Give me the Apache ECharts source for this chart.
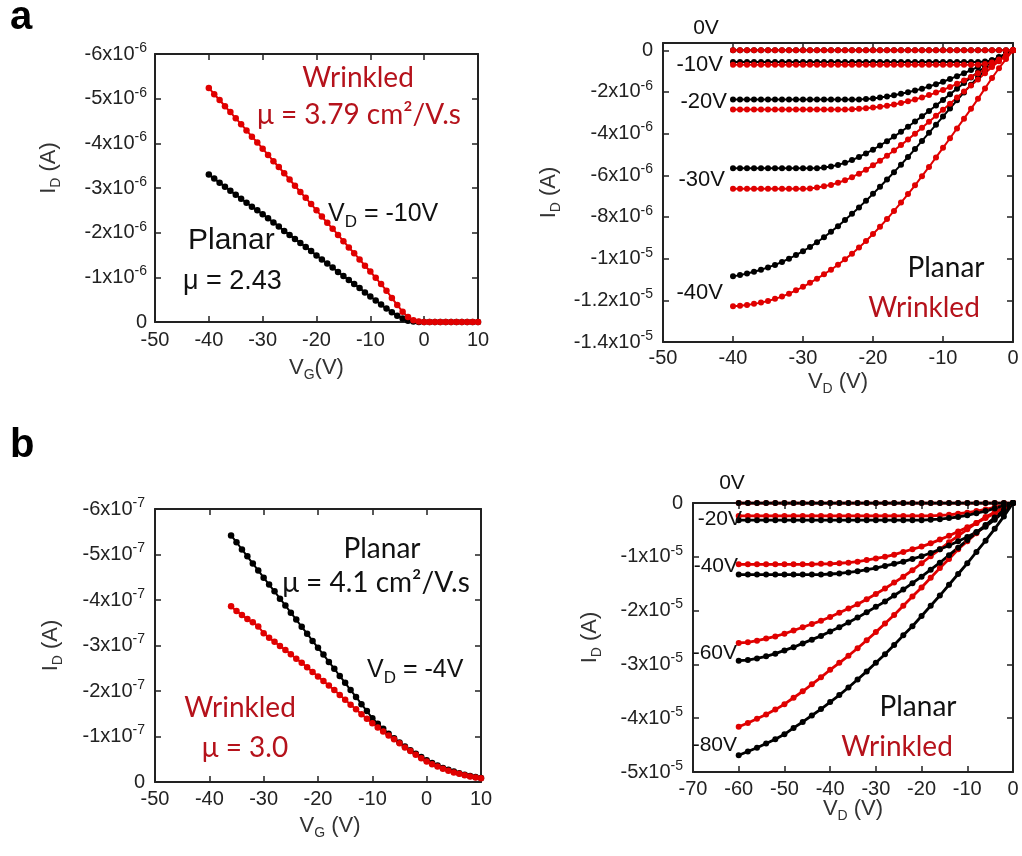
<!DOCTYPE html>
<html lang="en">
<head>
<meta charset="UTF-8">
<title>Planar vs wrinkled transistor curves</title>
<script src="https://cdn.jsdelivr.net/npm/echarts@6/dist/echarts.min.js"></script>
<style>
    html, body { margin: 0; padding: 0; background: #fff; }
    #box { width: 1022px; height: 856px; }
</style>
</head>
<body>
<div id="box"></div>
<script>
    // ---- panel a, left: transfer curves, I_D in units of 1e-6 A ----
    var vgA = [-40,-39,-38,-37,-36,-35,-34,-33,-32,-31,-30,-29,-28,-27,-26,-25,-24,-23,-22,-21,
               -20,-19,-18,-17,-16,-15,-14,-13,-12,-11,-10,-9,-8,-7,-6,-5,-4,-3,-2,-1,
               0,1,2,3,4,5,6,7,8,9,10];
    var planarA = [-3.30,-3.21,-3.12,-3.03,-2.94,-2.85,-2.76,-2.67,-2.58,-2.50,
                   -2.41,-2.32,-2.23,-2.14,-2.04,-1.95,-1.86,-1.77,-1.68,-1.59,
                   -1.49,-1.40,-1.31,-1.22,-1.12,-1.03,-0.94,-0.85,-0.76,-0.66,
                   -0.57,-0.48,-0.39,-0.30,-0.22,-0.14,-0.08,-0.03,-0.01,0,
                   0,0,0,0,0,0,0,0,0,0,0];
    var wrinkledA = [-5.24,-5.10,-4.97,-4.83,-4.70,-4.56,-4.43,-4.29,-4.15,-4.02,
                     -3.88,-3.74,-3.60,-3.47,-3.33,-3.19,-3.05,-2.91,-2.78,-2.64,
                     -2.50,-2.36,-2.22,-2.09,-1.95,-1.81,-1.67,-1.54,-1.40,-1.26,
                     -1.13,-0.99,-0.85,-0.70,-0.54,-0.38,-0.23,-0.11,-0.04,-0.01,
                     0,0,0,0,0,0,0,0,0,0,0];

    // ---- panel a, right: output curves, I_D in units of 1e-6 A ----
    var vdA = [-40,-39,-38,-37,-36,-35,-34,-33,-32,-31,-30,-29,-28,-27,-26,-25,-24,-23,-22,-21,
               -20,-19,-18,-17,-16,-15,-14,-13,-12,-11,-10,-9,-8,-7,-6,-5,-4,-3,-2,-1,0];
    var planar0A = [0,0,0,0,0,0,0,0,0,0, 0,0,0,0,0,0,0,0,0,0, 0,0,0,0,0,0,0,0,0,0, 0,0,0,0,0,0,0,0,0,0, 0];
    var wrinkled0A = [0,0,0,0,0,0,0,0,0,0, 0,0,0,0,0,0,0,0,0,0, 0,0,0,0,0,0,0,0,0,0, 0,0,0,0,0,0,0,0,0,0, 0];
    var planar10A = [-0.56,-0.56,-0.56,-0.56,-0.56,-0.56,-0.56,-0.56,-0.56,-0.56,
                     -0.56,-0.56,-0.56,-0.56,-0.56,-0.56,-0.56,-0.56,-0.56,-0.56,
                     -0.56,-0.56,-0.56,-0.56,-0.56,-0.56,-0.56,-0.56,-0.56,-0.56,
                     -0.56,-0.56,-0.56,-0.56,-0.56,-0.56,-0.54,-0.48,-0.36,-0.20, 0];
    var wrinkled10A = [-0.69,-0.69,-0.69,-0.69,-0.69,-0.69,-0.69,-0.69,-0.69,-0.69,
                       -0.69,-0.69,-0.69,-0.69,-0.69,-0.69,-0.69,-0.69,-0.69,-0.69,
                       -0.69,-0.69,-0.69,-0.69,-0.69,-0.69,-0.69,-0.69,-0.69,-0.69,
                       -0.69,-0.69,-0.69,-0.69,-0.69,-0.69,-0.66,-0.58,-0.44,-0.24, 0];
    var planar20A = [-2.36,-2.36,-2.36,-2.36,-2.36,-2.36,-2.36,-2.36,-2.36,-2.36,
                     -2.36,-2.36,-2.36,-2.36,-2.36,-2.36,-2.36,-2.36,-2.36,-2.34,
                     -2.31,-2.27,-2.22,-2.16,-2.09,-2.01,-1.93,-1.84,-1.74,-1.63,
                     -1.51,-1.38,-1.24,-1.10,-0.95,-0.80,-0.64,-0.48,-0.32,-0.16, 0];
    var wrinkled20A = [-2.84,-2.84,-2.84,-2.84,-2.84,-2.84,-2.84,-2.84,-2.84,-2.84,
                       -2.84,-2.84,-2.84,-2.84,-2.84,-2.84,-2.84,-2.83,-2.81,-2.78,
                       -2.75,-2.71,-2.66,-2.60,-2.53,-2.45,-2.36,-2.26,-2.15,-2.03,
                       -1.90,-1.76,-1.61,-1.45,-1.28,-1.10,-0.91,-0.70,-0.48,-0.25, 0];
    var planar30A = [-5.66,-5.66,-5.66,-5.66,-5.66,-5.66,-5.66,-5.66,-5.66,-5.66,
                     -5.66,-5.66,-5.66,-5.63,-5.58,-5.50,-5.40,-5.27,-5.12,-4.95,
                     -4.77,-4.57,-4.36,-4.14,-3.91,-3.67,-3.42,-3.17,-2.91,-2.65,
                     -2.38,-2.11,-1.84,-1.57,-1.30,-1.04,-0.79,-0.56,-0.35,-0.16, 0];
    var wrinkled30A = [-6.65,-6.65,-6.65,-6.65,-6.65,-6.65,-6.65,-6.65,-6.65,-6.65,
                       -6.65,-6.63,-6.59,-6.53,-6.46,-6.36,-6.24,-6.09,-5.92,-5.73,
                       -5.52,-5.30,-5.06,-4.81,-4.55,-4.28,-4.00,-3.72,-3.43,-3.14,
                       -2.85,-2.56,-2.27,-1.98,-1.69,-1.40,-1.10,-0.80,-0.52,-0.25, 0];
    var planar40A = [-10.85,-10.79,-10.71,-10.63,-10.53,-10.42,-10.30,-10.16,-10.00,-9.83,
                     -9.64,-9.44,-9.21,-8.97,-8.71,-8.44,-8.15,-7.85,-7.54,-7.22,
                     -6.89,-6.55,-6.20,-5.85,-5.49,-5.12,-4.74,-4.35,-3.96,-3.57,
                     -3.18,-2.79,-2.40,-2.02,-1.65,-1.29,-0.96,-0.65,-0.38,-0.16, 0];
    var wrinkled40A = [-12.28,-12.26,-12.22,-12.17,-12.11,-12.03,-11.93,-11.82,-11.68,-11.52,
                       -11.35,-11.16,-10.96,-10.75,-10.53,-10.29,-10.03,-9.76,-9.47,-9.15,
                       -8.82,-8.47,-8.10,-7.71,-7.31,-6.90,-6.48,-6.04,-5.60,-5.14,
                       -4.68,-4.22,-3.75,-3.28,-2.81,-2.33,-1.83,-1.33,-0.86,-0.42, 0];

    // ---- panel b, left: transfer curves, I_D in units of 1e-7 A ----
    var vgB = [-36,-35,-34,-33,-32,-31,-30,-29,-28,-27,-26,-25,-24,-23,-22,-21,-20,-19,-18,-17,
               -16,-15,-14,-13,-12,-11,-10,-9,-8,-7,-6,-5,-4,-3,-2,-1,0,1,2,3,4,5,6,7,8,9,10];
    var planarB = [-5.42,-5.27,-5.11,-4.96,-4.80,-4.65,-4.49,-4.34,-4.19,-4.03,
                   -3.88,-3.72,-3.57,-3.41,-3.26,-3.10,-2.95,-2.80,-2.64,-2.49,
                   -2.33,-2.18,-2.02,-1.87,-1.71,-1.56,-1.40,-1.28,-1.17,-1.06,
                   -0.96,-0.87,-0.78,-0.70,-0.62,-0.55,-0.48,-0.42,-0.36,-0.31,
                   -0.27,-0.23,-0.19,-0.16,-0.13,-0.11,-0.09];
    var wrinkledB = [-3.86,-3.76,-3.67,-3.58,-3.51,-3.42,-3.27,-3.17,-3.08,-2.99,
                     -2.90,-2.81,-2.71,-2.62,-2.52,-2.42,-2.32,-2.22,-2.12,-2.02,
                     -1.91,-1.81,-1.70,-1.60,-1.49,-1.39,-1.29,-1.20,-1.11,-1.02,
                     -0.94,-0.85,-0.76,-0.68,-0.60,-0.52,-0.45,-0.39,-0.34,-0.29,
                     -0.25,-0.21,-0.18,-0.15,-0.12,-0.10,-0.08];

    // ---- panel b, right: output curves, I_D in units of 1e-5 A ----
    var vdB = [-60,-58,-56,-54,-52,-50,-48,-46,-44,-42,-40,-38,-36,-34,-32,-30,
               -28,-26,-24,-22,-20,-18,-16,-14,-12,-10,-8,-6,-4,-2,0];
    var planar0B = [0,0,0,0,0,0,0,0,0,0, 0,0,0,0,0,0,0,0,0,0, 0,0,0,0,0,0,0,0,0,0, 0];
    var wrinkled0B = [0,0,0,0,0,0,0,0,0,0, 0,0,0,0,0,0,0,0,0,0, 0,0,0,0,0,0,0,0,0,0, 0];
    var planar20B = [-0.32,-0.32,-0.32,-0.32,-0.32,-0.32,-0.32,-0.32,-0.32,-0.32,
                     -0.32,-0.32,-0.32,-0.32,-0.32,-0.32,-0.32,-0.32,-0.32,-0.32,
                     -0.32,-0.31,-0.30,-0.28,-0.26,-0.23,-0.19,-0.15,-0.10,-0.05, 0];
    var wrinkled20B = [-0.24,-0.24,-0.24,-0.24,-0.24,-0.24,-0.24,-0.24,-0.24,-0.24,
                       -0.24,-0.24,-0.24,-0.24,-0.24,-0.24,-0.24,-0.24,-0.24,-0.24,
                       -0.24,-0.24,-0.23,-0.22,-0.20,-0.18,-0.15,-0.12,-0.08,-0.04, 0];
    var planar40B = [-1.33,-1.33,-1.33,-1.33,-1.33,-1.33,-1.33,-1.33,-1.33,-1.33,
                     -1.32,-1.31,-1.29,-1.27,-1.24,-1.21,-1.17,-1.13,-1.09,-1.04,
                     -0.99,-0.93,-0.86,-0.79,-0.71,-0.63,-0.54,-0.44,-0.31,-0.16, 0];
    var wrinkled40B = [-1.14,-1.14,-1.14,-1.14,-1.14,-1.14,-1.14,-1.14,-1.14,-1.13,
                       -1.13,-1.12,-1.11,-1.09,-1.06,-1.03,-1.00,-0.96,-0.91,-0.86,
                       -0.81,-0.75,-0.68,-0.61,-0.53,-0.45,-0.37,-0.28,-0.19,-0.10, 0];
    var planar60B = [-2.93,-2.92,-2.89,-2.85,-2.80,-2.74,-2.68,-2.61,-2.54,-2.47,
                     -2.39,-2.31,-2.22,-2.13,-2.03,-1.93,-1.83,-1.72,-1.61,-1.49,
                     -1.37,-1.24,-1.11,-0.97,-0.83,-0.69,-0.55,-0.41,-0.27,-0.13, 0];
    var wrinkled60B = [-2.60,-2.59,-2.56,-2.52,-2.48,-2.43,-2.37,-2.31,-2.25,-2.19,
                       -2.12,-2.04,-1.96,-1.88,-1.79,-1.69,-1.59,-1.48,-1.37,-1.25,
                       -1.12,-0.99,-0.86,-0.73,-0.61,-0.49,-0.37,-0.26,-0.17,-0.08, 0];
    var planar80B = [-4.69,-4.62,-4.55,-4.47,-4.39,-4.30,-4.18,-4.07,-3.95,-3.83,
                     -3.70,-3.57,-3.43,-3.28,-3.13,-2.97,-2.81,-2.64,-2.46,-2.29,
                     -2.10,-1.91,-1.72,-1.52,-1.32,-1.12,-0.91,-0.70,-0.48,-0.25, 0];
    var wrinkled80B = [-4.16,-4.09,-4.01,-3.93,-3.84,-3.74,-3.62,-3.50,-3.37,-3.24,
                       -3.10,-2.97,-2.84,-2.70,-2.55,-2.40,-2.24,-2.08,-1.91,-1.74,
                       -1.57,-1.39,-1.21,-1.04,-0.86,-0.71,-0.56,-0.42,-0.28,-0.14, 0];

    var RED = '#e00000', BLACK = '#000000', TXTRED = '#b5121b', AXIS = '#222222';
    var TICKFONT = '"Liberation Sans", Arial, sans-serif';
    var NOTEFONT = 'Lato, "Noto Sans", sans-serif';

    var myChart = echarts.init(document.getElementById('box'));

    function pairs(xs, ys) {
        return xs.map(function (x, i) { return [x, ys[i]]; });
    }

    function sciFmt(exp) {
        return function (v) {
            if (v === 0) return '0';
            if (v > 0) return '';
            return v + 'x10{s|' + exp + '}';
        };
    }

    // a-right mixes 1e-6 and 1e-5 labels
    function fmtAR(v) {
        if (v === 0) return '0';
        if (v > 0) return '';
        if (v <= -10) return (Math.round(v) / 10) + 'x10{s|-5}';
        return v + 'x10{s|-6}';
    }

    var tickStyle = {show: true, inside: true, length: 6, lineStyle: {color: AXIS, width: 1.5}};
    var lineStyle = {show: true, onZero: false, lineStyle: {color: AXIS, width: 2}};
    var nameStyle = {
        color: '#333', fontSize: 22, fontFamily: TICKFONT,
        rich: {sub: {fontSize: 14, fontFamily: TICKFONT, color: '#333', padding: [14, 0, 0, 0]}}
    };

    var grids = [
        {left: 155, top: 54, width: 323, height: 268},
        {left: 663, top: 43, width: 350, height: 299},
        {left: 155, top: 509, width: 326, height: 273},
        {left: 693, top: 503, width: 320, height: 269}
    ];
    grids.forEach(function (g) { g.outerBoundsMode = 'none'; g.containLabel = false; });

    // per panel: x range, y range, label formatter, names, mark sizes
    var panels = [
        {x: [-50, 10, 10], y: [-6, 0, 1], inv: true, fmt: sciFmt(-6), lm: 8, xm: 8,
         xName: 'V{sub|G}(V)', xGap: 32, xPad: [0, 0, 0, 0],
         yName: 'I{sub|D} (A)', yGap: 92, yPad: [0, 0, 0, 40], dot: 6.5, lw: 2},
        {x: [-50, 0, 10], y: [-14, 0.35, 2], inv: false, fmt: fmtAR, lm: 10, xm: 6,
         xName: 'V{sub|D} (V)', xGap: 26, xPad: [0, 0, 0, 0],
         yName: 'I{sub|D} (A)', yGap: 100, yPad: [0, 0, 0, 0], dot: 6, lw: 2},
        {x: [-50, 10, 10], y: [-6, 0, 1], inv: true, fmt: sciFmt(-7), lm: 10, xm: 7,
         xName: 'V{sub|G} (V)', xGap: 30, xPad: [0, 0, 0, 24],
         yName: 'I{sub|D} (A)', yGap: 90, yPad: [0, 0, 0, 0], dot: 6.5, lw: 2},
        {x: [-70, 0, 10], y: [-5, 0, 1], inv: false, fmt: sciFmt(-5), lm: 10, xm: 7,
         xName: 'V{sub|D} (V)', xGap: 23, xPad: [0, 0, 0, 0],
         yName: 'I{sub|D} (A)', yGap: 89, yPad: [0, 0, 0, 0], dot: 6, lw: 2.8}
    ];

    var xAxes = [], yAxes = [];
    panels.forEach(function (p, gi) {
        xAxes.push({
            type: 'value', gridIndex: gi, position: 'bottom',
            min: p.x[0], max: p.x[1], interval: p.x[2],
            axisLine: lineStyle, axisTick: tickStyle, splitLine: {show: false},
            axisLabel: {color: AXIS, fontSize: 20, fontFamily: TICKFONT, margin: p.xm},
            name: p.xName, nameLocation: 'middle', nameGap: p.xGap, nameMoveOverlap: false,
            nameTextStyle: Object.assign({padding: p.xPad}, nameStyle)
        });
        xAxes.push({
            type: 'value', gridIndex: gi, position: 'top',
            min: p.x[0], max: p.x[1], interval: p.x[2],
            axisLine: lineStyle, axisTick: tickStyle, splitLine: {show: false},
            axisLabel: {show: false}
        });
        yAxes.push({
            type: 'value', gridIndex: gi, position: 'left', inverse: p.inv,
            min: p.y[0], max: p.y[1], interval: p.y[2],
            axisLine: lineStyle, axisTick: tickStyle, splitLine: {show: false},
            axisLabel: {
                color: AXIS, fontSize: 20, fontFamily: TICKFONT, margin: p.lm,
                formatter: p.fmt,
                rich: {s: {fontSize: 14, fontFamily: TICKFONT, color: AXIS, padding: [0, 0, 12, 0]}}
            },
            name: p.yName, nameLocation: 'middle', nameGap: p.yGap, nameMoveOverlap: false,
            nameTextStyle: Object.assign({padding: p.yPad}, nameStyle)
        });
        yAxes.push({
            type: 'value', gridIndex: gi, position: 'right', inverse: p.inv,
            min: p.y[0], max: p.y[1], interval: p.y[2],
            axisLine: lineStyle, axisTick: tickStyle, splitLine: {show: false},
            axisLabel: {show: false}
        });
    });

    function curve(name, gi, xs, ys, color) {
        return {
            name: name, type: 'line', xAxisIndex: 2 * gi, yAxisIndex: 2 * gi,
            data: pairs(xs, ys), symbol: 'circle', symbolSize: panels[gi].dot, showAllSymbol: true,
            itemStyle: {color: color}, lineStyle: {color: color, width: panels[gi].lw},
            silent: true, animation: false
        };
    }

    var series = [
        curve('Planar', 0, vgA, planarA, BLACK),
        curve('Wrinkled', 0, vgA, wrinkledA, RED),

        curve('Planar 0V', 1, vdA, planar0A, BLACK),
        curve('Planar -10V', 1, vdA, planar10A, BLACK),
        curve('Planar -20V', 1, vdA, planar20A, BLACK),
        curve('Planar -30V', 1, vdA, planar30A, BLACK),
        curve('Planar -40V', 1, vdA, planar40A, BLACK),
        curve('Wrinkled 0V', 1, vdA, wrinkled0A, RED),
        curve('Wrinkled -10V', 1, vdA, wrinkled10A, RED),
        curve('Wrinkled -20V', 1, vdA, wrinkled20A, RED),
        curve('Wrinkled -30V', 1, vdA, wrinkled30A, RED),
        curve('Wrinkled -40V', 1, vdA, wrinkled40A, RED),

        curve('Planar', 2, vgB, planarB, BLACK),
        curve('Wrinkled', 2, vgB, wrinkledB, RED),

        curve('Wrinkled 0V', 3, vdB, wrinkled0B, RED),
        curve('Wrinkled -20V', 3, vdB, wrinkled20B, RED),
        curve('Wrinkled -40V', 3, vdB, wrinkled40B, RED),
        curve('Wrinkled -60V', 3, vdB, wrinkled60B, RED),
        curve('Wrinkled -80V', 3, vdB, wrinkled80B, RED),
        curve('Planar 0V', 3, vdB, planar0B, BLACK),
        curve('Planar -20V', 3, vdB, planar20B, BLACK),
        curve('Planar -40V', 3, vdB, planar40B, BLACK),
        curve('Planar -60V', 3, vdB, planar60B, BLACK),
        curve('Planar -80V', 3, vdB, planar80B, BLACK)
    ];

    var subRich = {sub: {fontSize: 17, fontFamily: TICKFONT, fill: '#111', padding: [16, 0, 0, 0]}};

    function txt(text, x, y, o) {
        o = o || {};
        return {
            type: 'text', x: x, y: y, silent: true, z: 100,
            style: {
                text: text,
                fill: o.fill || '#111',
                fontSize: o.size || 20,
                fontFamily: o.family || TICKFONT,
                fontWeight: o.weight || 'normal',
                align: o.align || 'left',
                verticalAlign: 'middle',
                rich: o.rich
            }
        };
    }

    var notes = [
        txt('a', 10, 18, {size: 40, weight: 'bold', fill: '#000'}),
        txt('b', 10, 446, {size: 40, weight: 'bold', fill: '#000'}),

        // panel a left
        txt('Wrinkled', 358, 78, {size: 28, family: NOTEFONT, fill: TXTRED, align: 'center'}),
        txt('\u03bc = 3.79 cm\u00b2/V.s', 359, 115, {size: 28, family: NOTEFONT, fill: TXTRED, align: 'center'}),
        txt('V{sub|D} = -10V', 328, 214, {size: 25, rich: subRich}),
        txt('Planar', 188, 241, {size: 30}),
        txt('\u03bc = 2.43', 183, 282, {size: 27}),

        // panel a right
        txt('0V', 706, 28, {size: 21, align: 'center'}),
        txt('-10V', 723, 65, {size: 22, align: 'right'}),
        txt('-20V', 727, 102, {size: 22, align: 'right'}),
        txt('-30V', 725, 180, {size: 22, align: 'right'}),
        txt('-40V', 723, 293, {size: 22, align: 'right'}),
        txt('Planar', 946, 268, {size: 28, family: NOTEFONT, align: 'center'}),
        txt('Wrinkled', 924, 308, {size: 28, family: NOTEFONT, fill: TXTRED, align: 'center'}),

        // panel b left
        txt('Planar', 382, 549, {size: 28, family: NOTEFONT, align: 'center'}),
        txt('\u03bc = 4.1 cm\u00b2/V.s', 376, 583, {size: 28, family: NOTEFONT, align: 'center'}),
        txt('V{sub|D} = -4V', 367, 670, {size: 25, rich: subRich}),
        txt('Wrinkled', 240, 708, {size: 28, family: NOTEFONT, fill: TXTRED, align: 'center'}),
        txt('\u03bc = 3.0', 245, 748, {size: 28, family: NOTEFONT, fill: TXTRED, align: 'center'}),

        // panel b right
        txt('0V', 732, 483, {size: 21, align: 'center'}),
        txt('-20V', 742, 519, {size: 21, align: 'right'}),
        txt('-40V', 738, 566, {size: 21, align: 'right'}),
        txt('-60V', 737, 653, {size: 21, align: 'right'}),
        txt('-80V', 737, 745, {size: 21, align: 'right'}),
        txt('Planar', 918, 707, {size: 28, family: NOTEFONT, align: 'center'}),
        txt('Wrinkled', 897, 747, {size: 28, family: NOTEFONT, fill: TXTRED, align: 'center'})
    ];

    var option = {
        backgroundColor: '#ffffff',
        animation: false,
        grid: grids,
        xAxis: xAxes,
        yAxis: yAxes,
        series: series,
        graphic: notes
    };
    myChart.setOption(option);
</script>
</body>
</html>
